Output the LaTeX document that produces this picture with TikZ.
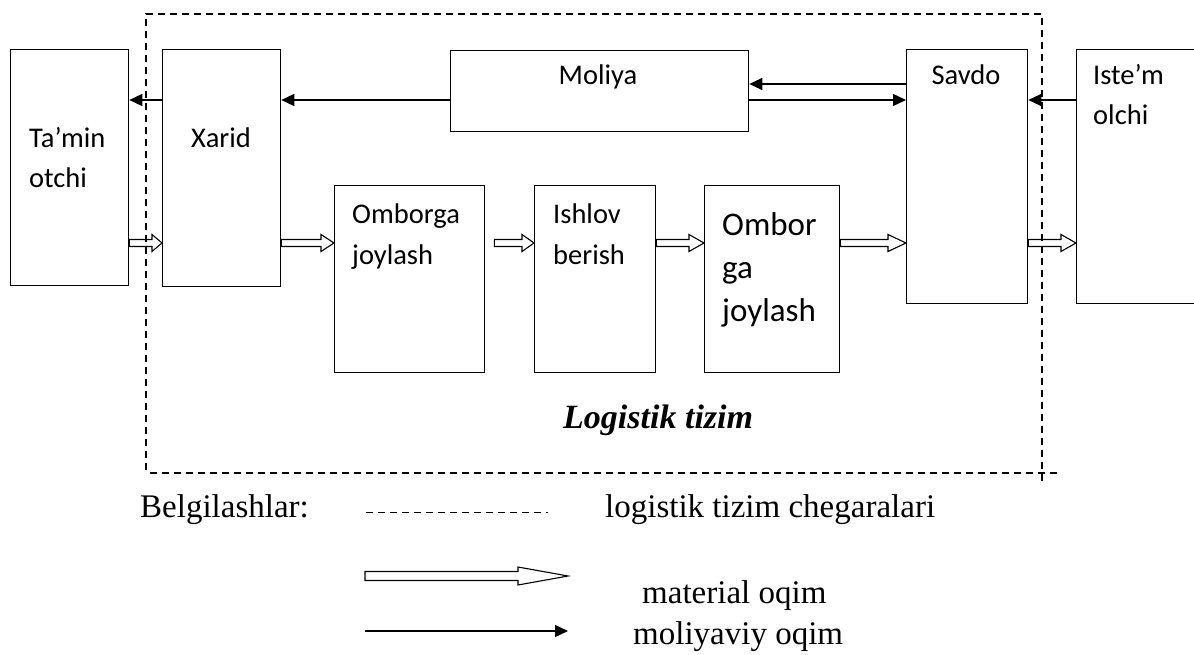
\documentclass[tikz,border=0pt]{standalone}
\usepackage{fontspec}
\setmainfont{Liberation Serif}
\newfontfamily\boxfont{Carlito}
\usetikzlibrary{arrows.meta,calc}

\tikzset{
  box/.style={draw=black, line width=1.3pt, rectangle, anchor=north west, inner sep=0pt},
  boxtext/.style={font=\boxfont\fontsize{28.5}{40}\selectfont, inner sep=0pt, align=left},
  bigtext/.style={font=\boxfont\fontsize{33}{43}\selectfont, inner sep=0pt, align=left},
  serif/.style={font=\fontsize{33}{38}\selectfont, inner sep=0pt, anchor=base west},
  finflow/.style={line width=1.3pt, -{Triangle[length=13pt,width=12pt]}},
  boundary/.style={line width=1.1pt, dash pattern=on 7pt off 5pt},
  % hollow block arrow: head length, head half-height, shaft half-height
  hollow/.style n args={3}{line width=1.1pt, to path={
    let \p1=(\tikztostart), \p2=(\tikztotarget) in
    (\x1,\y1+#3pt) -- (\x2-#1pt,\y1+#3pt) -- (\x2-#1pt,\y1+#2pt) -- (\x2,\y1)
    -- (\x2-#1pt,\y1-#2pt) -- (\x2-#1pt,\y1-#3pt) -- (\x1,\y1-#3pt) -- cycle}},
}

\begin{document}
\begin{tikzpicture}[x=1pt, y=-1pt]
\useasboundingbox[fill=white] (0,0) rectangle (1194,655);

% levels of the two flows
\coordinate (fy) at (0,100);
\coordinate (fy2) at (0,84);
\coordinate (my) at (0,243);

% system boundary
\coordinate (b-tl) at (146,14);
\coordinate (b-tr) at (1042,14);
\coordinate (b-bl) at (146,470);
\coordinate (b-br) at (1042,484);
\coordinate (b-l) at (150,473);
\coordinate (b-r) at (1057,473);
\draw[boundary] (b-bl) -- (b-tl) -- (b-tr) -- (b-br);
\draw[boundary] (b-l) -- (b-r);

% blocks
\node[box, minimum width=118pt, minimum height=236pt] (tam) at (10,49) {};
\node[box, minimum width=118pt, minimum height=237pt] (xar) at (162,49) {};
\node[box, minimum width=298pt, minimum height=81pt] (mol) at (450,50) {};
\node[box, minimum width=121pt, minimum height=254pt] (sav) at (906,49) {};
\node[box, minimum width=118pt, minimum height=254pt] (ist) at (1076,49) {};
\node[box, minimum width=150pt, minimum height=187pt] (om1) at (334,185) {};
\node[box, minimum width=121pt, minimum height=187pt] (ish) at (534,185) {};
\node[box, minimum width=135pt, minimum height=187pt] (om2) at (704,185) {};

% block labels (multi-line labels are placed by their last baseline)
\node[boxtext, anchor=base west] (t-tam) at (29,188) {Ta’min\\otchi};
\node[boxtext, anchor=base] (t-xar) at (221,148) {Xarid};
\node[boxtext, anchor=base] (t-mol) at (598,85) {Moliya};
\node[boxtext, anchor=base] (t-sav) at (966,85) {Savdo};
\node[boxtext, anchor=base west] (t-ist) at (1093,125) {Iste’m\\olchi};
\node[boxtext, anchor=base west] (t-om1) at (352,264) {Omborga\\joylash};
\node[boxtext, anchor=base west] (t-ish) at (553,264) {Ishlov\\berish};
\node[bigtext, anchor=base west] (t-om2) at (722,321) {Ombor\\ga\\joylash};

% financial flow
\draw[finflow] (xar.west |- fy) -- (tam.east |- fy);
\draw[finflow] (mol.west |- fy) -- (xar.east |- fy);
\draw[finflow] (sav.west |- fy2) -- (mol.east |- fy2);
\draw[finflow] (mol.east |- fy) -- (sav.west |- fy);
\draw[finflow] (ist.west |- fy) -- (sav.east |- fy);

% material flow
\draw[hollow={10}{8.5}{3.5}] (tam.east |- my) to (xar.west |- my);
\draw[hollow={13}{8.5}{3.5}] (xar.east |- my) to (om1.west |- my);
\draw[hollow={12}{8.5}{3.5}] ([xshift=9pt]om1.east |- my) to (ish.west |- my);
\draw[hollow={15}{8.5}{3.5}] (ish.east |- my) to (om2.west |- my);
\draw[hollow={18}{8.5}{3.5}] (om2.east |- my) to (sav.west |- my);
\draw[hollow={15}{8.5}{3.5}] (sav.east |- my) to (ist.west |- my);

% system caption
\node[font=\bfseries\itshape\fontsize{34}{40}\selectfont, inner sep=0pt, anchor=base west] (cap) at (563,428) {Logistik tizim};

% legend
\node[serif] (lg-title) at (140,517) {Belgilashlar:};
\coordinate (lg-d1) at (366,512);
\coordinate (lg-d2) at (548,512);
\draw[line width=1pt, dash pattern=on 7pt off 5pt] (lg-d1) -- (lg-d2);
\node[serif] (lg-dtext) at (605,517) {logistik tizim chegaralari};

\coordinate (lg-m1) at (365,576);
\coordinate (lg-m2) at (568,576);
\draw[hollow={50}{9}{4.5}] (lg-m1) to (lg-m2);
\node[serif] (lg-mtext) at (642,603) {material oqim};

\coordinate (lg-f1) at (365,631);
\coordinate (lg-f2) at (568,631);
\draw[finflow] (lg-f1) -- (lg-f2);
\node[serif] (lg-ftext) at (633,644) {moliyaviy oqim};
\end{tikzpicture}
\end{document}
